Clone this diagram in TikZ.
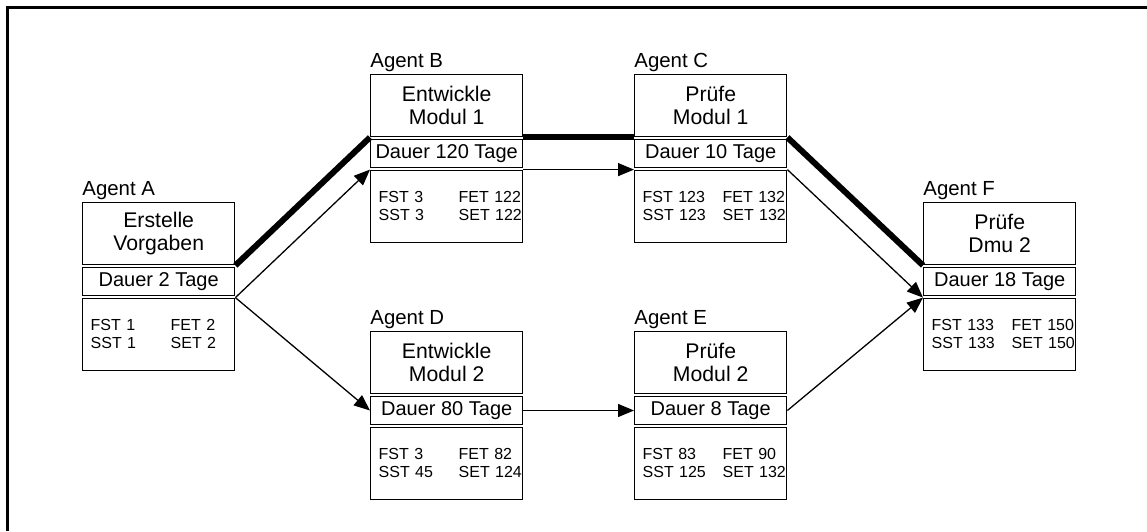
\documentclass[tikz,border=0pt]{standalone}
\usepackage{fontspec}
\setmainfont{Liberation Sans}
\usetikzlibrary{arrows.meta,positioning}
\tikzset{
  basebox/.style={rectangle,draw=black,line width=0.7pt,align=center,
                  minimum width=76pt,inner sep=1pt},
  titlebox/.style={basebox,minimum height=31pt,anchor=north west,
                   font=\fontsize{10.6}{11.5}\selectfont},
  durbox/.style={basebox,minimum height=14pt,
                 font=\fontsize{10}{12}\selectfont},
  infobox/.style={basebox,minimum height=36pt,text width=68pt,
                  inner xsep=4pt,align=left,font=\fontsize{8}{9}\selectfont},
  agentlbl/.style={inner sep=0pt,font=\fontsize{10.2}{12}\selectfont},
  critline/.style={line width=3pt},
  arr/.style={-{Triangle[length=8pt,width=6.5pt]},line width=0.65pt}
}
\newcommand{\esttimes}[4]{\makebox[40pt][l]{FST #1}\rlap{FET #2}\\
                          \makebox[40pt][l]{SST #3}\rlap{SET #4}}

\begin{document}
\begin{tikzpicture}[x=0.5pt,y=-0.5pt]
  \useasboundingbox (0,0) rectangle (1147,531);
  % frame
  \draw[line width=1.5pt] (7.5,531) -- (7.5,7.5) -- (1147,7.5);

  % Agent A
  \node[titlebox] (titA) at (82,202) {Erstelle\\Vorgaben};
  \node[durbox,below=0.7pt of titA] (durA) {Dauer 2 Tage};
  \node[infobox,below=0.7pt of durA] (infA) {\esttimes{1}{2}{1}{2}};
  \node[agentlbl,above=3.5pt of titA.north west,anchor=base west] (lblA) {Agent A};

  % Agent B
  \node[titlebox] (titB) at (370,74) {Entwickle\\Modul 1};
  \node[durbox,below=0.7pt of titB] (durB) {Dauer 120 Tage};
  \node[infobox,below=0.7pt of durB] (infB) {\esttimes{3}{122}{3}{122}};
  \node[agentlbl,above=3.5pt of titB.north west,anchor=base west] (lblB) {Agent B};

  % Agent C
  \node[titlebox] (titC) at (634,74) {Prüfe\\Modul 1};
  \node[durbox,below=0.7pt of titC] (durC) {Dauer 10 Tage};
  \node[infobox,below=0.7pt of durC] (infC) {\esttimes{123}{132}{123}{132}};
  \node[agentlbl,above=3.5pt of titC.north west,anchor=base west] (lblC) {Agent C};

  % Agent D
  \node[titlebox] (titD) at (370,331) {Entwickle\\Modul 2};
  \node[durbox,below=0.7pt of titD] (durD) {Dauer 80 Tage};
  \node[infobox,below=0.7pt of durD] (infD) {\esttimes{3}{82}{45}{124}};
  \node[agentlbl,above=3.5pt of titD.north west,anchor=base west] (lblD) {Agent D};

  % Agent E
  \node[titlebox] (titE) at (634,331) {Prüfe\\Modul 2};
  \node[durbox,below=0.7pt of titE] (durE) {Dauer 8 Tage};
  \node[infobox,below=0.7pt of durE] (infE) {\esttimes{83}{90}{125}{132}};
  \node[agentlbl,above=3.5pt of titE.north west,anchor=base west] (lblE) {Agent E};

  % Agent F
  \node[titlebox] (titF) at (923,202) {Prüfe\\Dmu 2};
  \node[durbox,below=0.7pt of titF] (durF) {Dauer 18 Tage};
  \node[infobox,below=0.7pt of durF] (infF) {\esttimes{133}{150}{133}{150}};
  \node[agentlbl,above=3.5pt of titF.north west,anchor=base west] (lblF) {Agent F};

  % critical path
  \draw[critline] (titA.south east) -- (titB.south west);
  \draw[critline] (titB.south east) -- (titC.south west);
  \draw[critline] (titC.south east) -- (titF.south west);

  % dependencies
  \draw[arr] (infA.north east) -- (infB.north west);
  \draw[arr] (infA.north east) -- (durD.west);
  \draw[arr] (infB.north east) -- (infC.north west);
  \draw[arr] (durD.east) -- (durE.west);
  \draw[arr] (infC.north east) -- (infF.north west);
  \draw[arr] (durE.east) -- (infF.north west);
\end{tikzpicture}
\end{document}
